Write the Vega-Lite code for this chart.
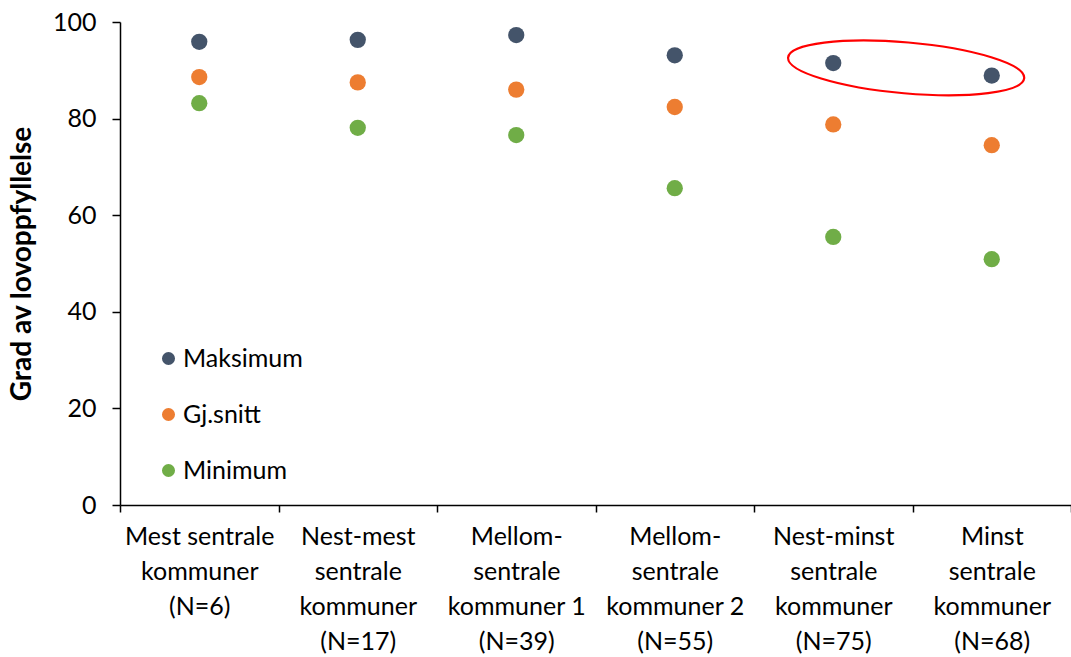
{
  "$schema": "https://vega.github.io/schema/vega-lite/v6.json",
  "width": 951,
  "height": 483,
  "autosize": {"type": "none"},
  "padding": {"left": 120, "top": 22, "right": 0, "bottom": 152},
  "background": "white",
  "config": {
    "view": {"stroke": null},
    "font": "Lato"
  },
  "datasets": {
    "verdier": [
      {"kategori": "Mest sentrale|kommuner|(N=6)", "type": "Maksimum", "verdi": 95.9},
      {"kategori": "Mest sentrale|kommuner|(N=6)", "type": "Gj.snitt", "verdi": 88.6},
      {"kategori": "Mest sentrale|kommuner|(N=6)", "type": "Minimum", "verdi": 83.2},
      {"kategori": "Nest-mest|sentrale|kommuner|(N=17)", "type": "Maksimum", "verdi": 96.3},
      {"kategori": "Nest-mest|sentrale|kommuner|(N=17)", "type": "Gj.snitt", "verdi": 87.5},
      {"kategori": "Nest-mest|sentrale|kommuner|(N=17)", "type": "Minimum", "verdi": 78.1},
      {"kategori": "Mellom-|sentrale|kommuner 1|(N=39)", "type": "Maksimum", "verdi": 97.3},
      {"kategori": "Mellom-|sentrale|kommuner 1|(N=39)", "type": "Gj.snitt", "verdi": 86.0},
      {"kategori": "Mellom-|sentrale|kommuner 1|(N=39)", "type": "Minimum", "verdi": 76.6},
      {"kategori": "Mellom-|sentrale|kommuner 2|(N=55)", "type": "Maksimum", "verdi": 93.1},
      {"kategori": "Mellom-|sentrale|kommuner 2|(N=55)", "type": "Gj.snitt", "verdi": 82.4},
      {"kategori": "Mellom-|sentrale|kommuner 2|(N=55)", "type": "Minimum", "verdi": 65.6},
      {"kategori": "Nest-minst|sentrale|kommuner|(N=75)", "type": "Maksimum", "verdi": 91.5},
      {"kategori": "Nest-minst|sentrale|kommuner|(N=75)", "type": "Gj.snitt", "verdi": 78.8},
      {"kategori": "Nest-minst|sentrale|kommuner|(N=75)", "type": "Minimum", "verdi": 55.5},
      {"kategori": "Minst|sentrale|kommuner|(N=68)", "type": "Maksimum", "verdi": 88.9},
      {"kategori": "Minst|sentrale|kommuner|(N=68)", "type": "Gj.snitt", "verdi": 74.5},
      {"kategori": "Minst|sentrale|kommuner|(N=68)", "type": "Minimum", "verdi": 50.9}
    ],
    "markering": [
      {"kategori": "Nest-minst|sentrale|kommuner|(N=75)", "verdi": 90.5}
    ]
  },
  "encoding": {
    "x": {
      "field": "kategori",
      "type": "nominal",
      "scale": {
        "domain": [
          "Mest sentrale|kommuner|(N=6)",
          "Nest-mest|sentrale|kommuner|(N=17)",
          "Mellom-|sentrale|kommuner 1|(N=39)",
          "Mellom-|sentrale|kommuner 2|(N=55)",
          "Nest-minst|sentrale|kommuner|(N=75)",
          "Minst|sentrale|kommuner|(N=68)"
        ],
        "paddingInner": 0,
        "paddingOuter": 0
      },
      "axis": {
        "title": null,
        "labelAngle": 0,
        "labelExpr": "split(datum.label, '|')",
        "labelFontSize": 25,
        "labelLineHeight": 35,
        "labelColor": "#000",
        "labelPadding": 12,
        "labelBaseline": "top",
        "domainColor": "#000",
        "domainWidth": 1.5,
        "tickColor": "#000",
        "tickWidth": 1.5,
        "tickSize": 7,
        "tickBand": "extent",
        "grid": false
      }
    },
    "y": {
      "field": "verdi",
      "type": "quantitative",
      "scale": {"domain": [0, 100], "nice": false},
      "axis": {
        "title": "Grad av lovoppfyllelse",
        "titleFontSize": 28,
        "titleFontWeight": "bold",
        "titleColor": "#000",
        "titlePadding": 16,
        "values": [0, 20, 40, 60, 80, 100],
        "labelFontSize": 25,
        "labelColor": "#000",
        "labelPadding": 16,
        "domainColor": "#000",
        "domainWidth": 1.5,
        "tickColor": "#000",
        "tickWidth": 1.5,
        "tickSize": 8,
        "grid": false
      }
    }
  },
  "layer": [
    {
      "data": {"name": "verdier"},
      "mark": {"type": "point", "filled": true, "opacity": 1, "size": 265, "shape": "circle"},
      "encoding": {
        "color": {
          "field": "type",
          "type": "nominal",
          "scale": {
            "domain": ["Maksimum", "Gj.snitt", "Minimum"],
            "range": ["#44546A", "#ED7D31", "#70AD47"]
          },
          "legend": {
            "title": null,
            "orient": "none",
            "legendX": 36,
            "legendY": 324,
            "padding": 0,
            "symbolType": "circle",
            "symbolSize": 170,
            "symbolStrokeWidth": 0,
            "symbolOpacity": 1,
            "labelFontSize": 25,
            "labelColor": "#000",
            "labelOffset": 2,
            "rowPadding": 30
          }
        }
      }
    },
    {
      "data": {"name": "markering"},
      "mark": {
        "type": "point",
        "filled": false,
        "shape": "M-1,0A1,0.215,0,1,0,1,0A1,0.215,0,1,0,-1,0Z",
        "size": 56169,
        "angle": 5,
        "stroke": "#FF0000",
        "strokeWidth": 2.2,
        "opacity": 1
      },
      "encoding": {
        "x": {"field": "kategori", "type": "nominal", "bandPosition": 0.96}
      }
    }
  ]
}
